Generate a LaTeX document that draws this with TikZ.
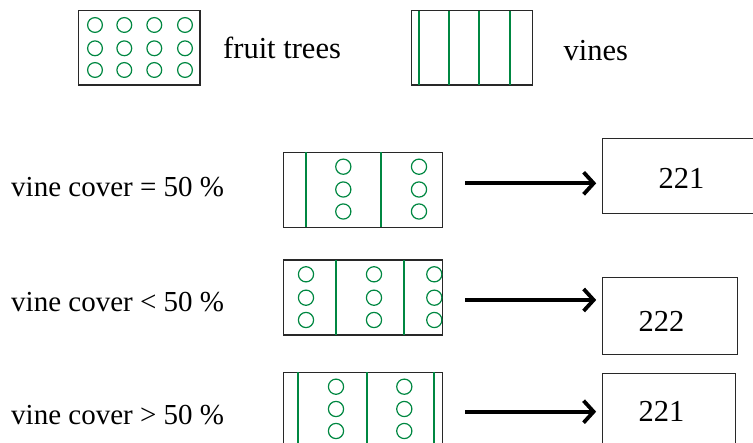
\documentclass[tikz,border=0pt]{standalone}
\usepackage{fontspec}
\setmainfont{Liberation Serif}
\usetikzlibrary{arrows.meta}
\definecolor{vgreen}{RGB}{0,135,65}
\definecolor{bgray}{RGB}{40,40,40}
\begin{document}
\begin{tikzpicture}[x=1pt,y=-1pt,
  field/.style={draw=bgray,line width=1.1pt},
  vine/.style={draw=vgreen,line width=1.8pt},
  tree/.style={draw=vgreen,line width=1.2pt},
  lbl/.style={anchor=base west,inner sep=0pt,font=\fontsize{29}{34}\selectfont},
  leg/.style={anchor=base west,inner sep=0pt,font=\fontsize{30.5}{35}\selectfont},
  numbox/.style={draw=bgray,line width=1pt,inner sep=0pt},
  arr/.style={line width=3.8pt,-{Straight Barb[length=10pt,width=22pt]},shorten >=6pt}]
\useasboundingbox (0,0) rectangle (753,443);
\clip (0,0) rectangle (753,443);
% legend: fruit trees
\draw[field] (78.3,10.7) rectangle (200,85);
\foreach \x in {95,124.3,154.3,185}
  \foreach \y in {25,48.3,70}
    \draw[tree] (\x,\y) circle (7.4);
\node[leg] (lfruit) at (223,58.3) {fruit trees};
% legend: vines
\draw[field] (411.7,10.7) rectangle (532.7,85);
\foreach \x in {419,449,479,510}
  \draw[vine] (\x,10.7) -- (\x,85);
\node[leg] (lvines) at (563.5,61) {vines};
% row 1
\node[lbl] (r1) at (11,196.7) {vine cover = 50 \%};
\draw[field] (283.3,152.3) rectangle (442.3,227.3);
\foreach \x in {306,381}
  \draw[vine] (\x,152.3) -- (\x,227.3);
\foreach \x in {343.3,419}
  \foreach \y in {166.7,189.5,211.5}
    \draw[tree] (\x,\y) circle (7.6);
\node[numbox,minimum width=170pt,minimum height=75pt] (b1) at (687.7,175.8) {};
\node[leg] (n1) at (658.3,188.3) {221};
\coordinate (s1) at (465,183.3);
\draw[arr] (s1) -- (s1 -| b1.west);
% row 2
\node[lbl] (r2) at (11,311.7) {vine cover < 50 \%};
\draw[field] (283.3,260) rectangle (442.3,335);
\foreach \x in {336,404}
  \draw[vine] (\x,260) -- (\x,335);
\foreach \x in {306,374,434.3}
  \foreach \y in {274.3,297.7,320}
    \draw[tree] (\x,\y) circle (7.6);
\node[numbox,minimum width=134.6pt,minimum height=76.7pt] (b2) at (670,315.7) {};
\node[leg] (n2) at (638.3,331.7) {222};
\coordinate (s2) at (465,300);
\draw[arr] (s2) -- (s2 -| b2.west);
% row 3
\node[lbl] (r3) at (11,424.7) {vine cover > 50 \%};
\draw[field] (283.3,372.3) rectangle (442.3,460);
\foreach \x in {298,367,434}
  \draw[vine] (\x,372.3) -- (\x,460);
\foreach \x in {336,404.3}
  \foreach \y in {386.7,409,431}
    \draw[tree] (\x,\y) circle (7.6);
\node[numbox,minimum width=133.3pt,minimum height=90pt] (b3) at (669.3,418.3) {};
\node[leg] (n3) at (638.3,421.7) {221};
\coordinate (s3) at (465,411.7);
\draw[arr] (s3) -- (s3 -| b3.west);
\end{tikzpicture}
\end{document}
